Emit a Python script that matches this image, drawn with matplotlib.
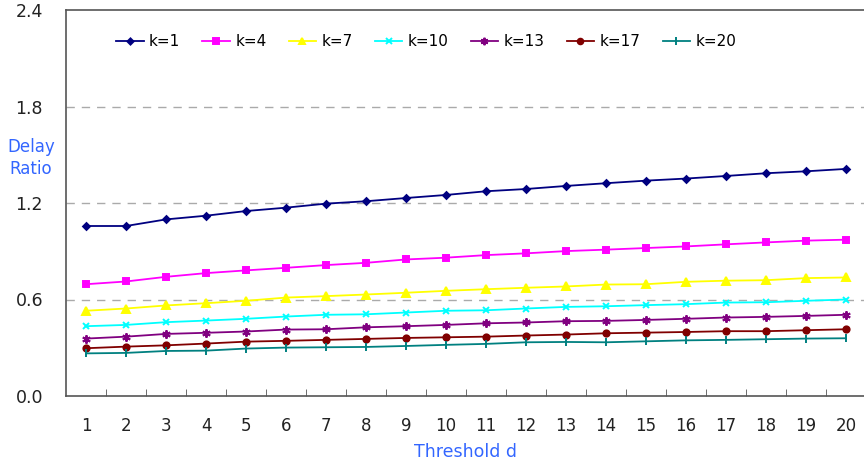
#!/usr/bin/env python
import matplotlib
matplotlib.use("Agg")
import matplotlib.pyplot as plt
import numpy as np

plt.rcParams['font.family'] = ['DejaVu Sans']

thresholds = list(range(1, 21))

k1 = [1.057, 1.057, 1.098, 1.121, 1.150, 1.171, 1.196, 1.211, 1.231, 1.250,
      1.273, 1.287, 1.306, 1.323, 1.339, 1.352, 1.368, 1.385, 1.397, 1.412]
k4 = [0.695, 0.712, 0.741, 0.764, 0.781, 0.797, 0.814, 0.828, 0.849, 0.860,
      0.876, 0.887, 0.901, 0.910, 0.920, 0.930, 0.943, 0.955, 0.966, 0.972]
k7 = [0.530, 0.544, 0.563, 0.577, 0.592, 0.612, 0.621, 0.631, 0.642, 0.654,
      0.664, 0.673, 0.681, 0.693, 0.695, 0.710, 0.717, 0.720, 0.733, 0.737]
k10 = [0.434, 0.442, 0.459, 0.469, 0.480, 0.494, 0.505, 0.508, 0.519, 0.530,
       0.533, 0.544, 0.554, 0.558, 0.565, 0.571, 0.581, 0.583, 0.592, 0.600]
k13 = [0.357, 0.369, 0.386, 0.393, 0.401, 0.413, 0.415, 0.427, 0.434, 0.442,
       0.452, 0.457, 0.465, 0.467, 0.473, 0.480, 0.488, 0.492, 0.498, 0.505]
k17 = [0.297, 0.307, 0.315, 0.326, 0.338, 0.343, 0.349, 0.355, 0.361, 0.365,
       0.369, 0.376, 0.382, 0.390, 0.394, 0.398, 0.403, 0.403, 0.409, 0.415]
k20 = [0.265, 0.268, 0.280, 0.282, 0.295, 0.301, 0.303, 0.305, 0.311, 0.318,
       0.324, 0.334, 0.336, 0.334, 0.340, 0.346, 0.349, 0.353, 0.357, 0.359]

series = [
    ('k=1', k1, '#000080', 'D', 3.5),
    ('k=4', k4, '#ff00ff', 's', 4.5),
    ('k=7', k7, '#ffff00', '^', 5.5),
    ('k=10', k10, '#00ffff', 'x', 5),
    ('k=13', k13, '#800080', (6, 2, 0), 6),
    ('k=17', k17, '#800000', 'o', 4.5),
    ('k=20', k20, '#008080', '|', 6),
]

fig = plt.figure(figsize=(8.64, 4.67), dpi=100)
ax = fig.add_axes([66/864, 1 - 396/467, (866 - 66)/864, (396 - 10)/467])

for lab, vals, col, mk, ms in series:
    ax.plot(thresholds, vals, '-', color=col, lw=1.3, marker=mk, ms=ms,
            mew=1.4, label=lab)

ax.set_xlim(0.5, 20.5)
ax.set_ylim(0, 2.4)
ax.set_yticks([0.0, 0.6, 1.2, 1.8, 2.4])
ax.set_yticklabels(['0.0', '0.6', '1.2', '1.8', '2.4'])
ax.set_xticks(thresholds)
ax.set_xticks(np.arange(1.5, 20.5, 1.0), minor=True)
ax.tick_params(axis='x', which='major', length=0, pad=15, labelsize=12,
               labelcolor='#222222')
ax.tick_params(axis='x', which='minor', direction='in', length=5,
               color='#555555')
ax.tick_params(axis='y', length=0, pad=16.5, labelsize=12.5,
               labelcolor='#222222')

for y in [0.6, 1.2, 1.8]:
    ax.axhline(y, color='#aaaaaa', lw=1.0, ls=(0, (6, 5)), zorder=0)

for s in ['left', 'bottom', 'top']:
    ax.spines[s].set_color('#555555')
    ax.spines[s].set_linewidth(1.2)
ax.spines['right'].set_visible(False)

fig.text(31/864, 1 - 158/467, 'Delay\nRatio', color='#3366ff', fontsize=12,
         ha='center', va='center', linespacing=1.3)
ax.set_xlabel('Threshold d', color='#3366ff', fontsize=12.5, labelpad=6)

ax.legend(loc='upper left', bbox_to_anchor=(0.055, 0.953), ncol=7,
          frameon=False, fontsize=11, handlelength=1.8, handletextpad=0.35,
          columnspacing=1.45, borderaxespad=0, markerscale=0.9)

fig.savefig('out.png', dpi=100)
